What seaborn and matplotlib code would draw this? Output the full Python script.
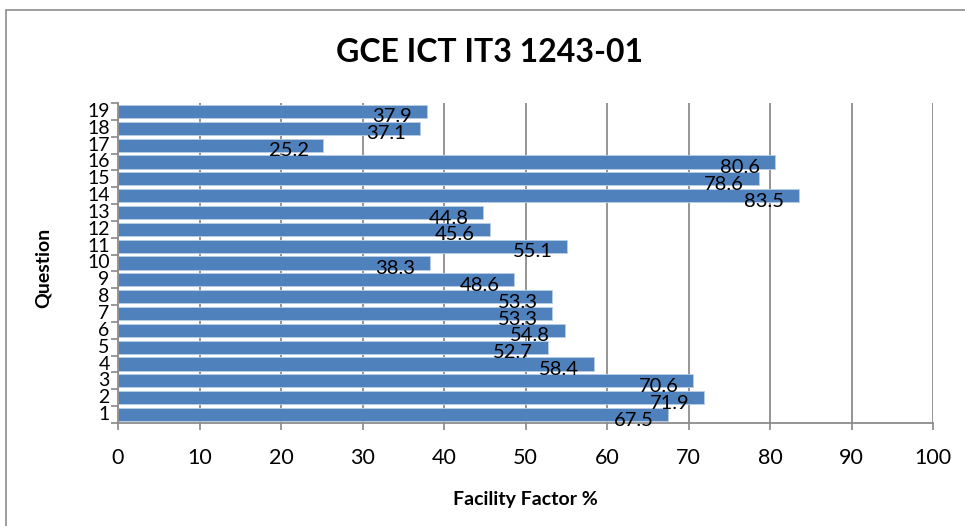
import matplotlib
matplotlib.use("Agg")
import matplotlib.pyplot as plt
import seaborn as sns
import pandas as pd
from matplotlib.patches import Rectangle

# data
questions = [str(q) for q in range(1, 20)]
facility = [67.5, 71.9, 70.6, 58.4, 52.7, 54.8, 53.3, 53.3, 48.6, 38.3,
            55.1, 45.6, 44.8, 83.5, 78.6, 80.6, 25.2, 37.1, 37.9]
x_ticks = [0, 10, 20, 30, 40, 50, 60, 70, 80, 90, 100]

df = pd.DataFrame({"Question": questions, "Facility": facility})
order = questions[::-1]  # 19 at the top

sns.set_style("white")
plt.rcParams["font.family"] = ["Lato", "DejaVu Sans"]
plt.rcParams["text.color"] = "black"
plt.rcParams["xtick.labelcolor"] = "black"
plt.rcParams["ytick.labelcolor"] = "black"
plt.rcParams["axes.labelcolor"] = "black"

fig = plt.figure(figsize=(9.65, 5.26), dpi=100)
ax = fig.add_axes([118 / 965, 103 / 526, (933 - 118) / 965, 320 / 526])

sns.barplot(data=df, x="Facility", y="Question", order=order, orient="h",
            color="#4F81BD", saturation=1, width=0.78,
            edgecolor="#b9cde5", linewidth=0.6, ax=ax)

# value labels, inside end of bar, a bit low like Excel draws them
for i, q in enumerate(order):
    v = facility[questions.index(q)]
    ax.annotate(f"{v}", xy=(v, i), xytext=(-10.5, -4), textcoords="offset points",
                ha="right", va="center", fontsize=14.5, color="black")

ax.set_xlim(0, 100)
ax.set_ylim(len(order) - 0.5, -0.5)
ax.set_xticks(x_ticks)
ax.set_xticklabels([str(t) for t in x_ticks], fontsize=15.5)
ax.tick_params(axis="x", which="major", length=5, width=1.2, color="#888888",
               direction="out", pad=13, bottom=True)

# y labels at bar centers, tick marks on the boundaries
ax.tick_params(axis="y", which="major", length=0, pad=6, labelsize=14)
ax.set_yticks([i - 0.5 for i in range(len(order) + 1)], minor=True)
ax.tick_params(axis="y", which="minor", length=5, width=1.2, color="#888888",
               direction="out", left=True)
for lbl in ax.get_yticklabels():
    lbl.set_verticalalignment("center")

ax.grid(axis="x", color="#8c8c8c", linewidth=1.3)
ax.set_axisbelow(True)
for side in ["top", "right"]:
    ax.spines[side].set_visible(False)
for side in ["left", "bottom"]:
    ax.spines[side].set_color("#8c8c8c")
    ax.spines[side].set_linewidth(1.3)

ax.set_xlabel("Facility Factor %", fontsize=14, fontweight="bold")
ax.xaxis.set_label_coords((525 - 118) / 815, -(491 - 423) / 320)
ax.set_ylabel("Question", fontsize=14, fontweight="bold")
ax.yaxis.set_label_coords(-(118 - 52) / 815, (423 - 268) / 320)

fig.text(490 / 965, 1 - 52 / 526, "GCE ICT IT3 1243-01", ha="center", va="center",
         fontsize=23, fontweight="bold", color="black")

# chart frame
fig.patches.append(Rectangle((6 / 965, -0.05), 1.1, 1 - 10 / 526 + 0.05,
                             transform=fig.transFigure, fill=False,
                             edgecolor="#8c8c8c", linewidth=1.2))

fig.savefig("out.png", dpi=100)
